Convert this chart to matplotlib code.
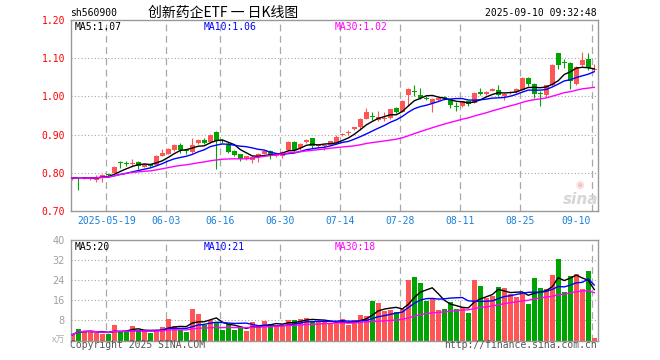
import matplotlib
matplotlib.use('Agg')
import matplotlib.pyplot as plt
import matplotlib.transforms as mtrans
import numpy as np
import pandas as pd

# ---------------- data ----------------
opens = [0.783,0.787,0.785,0.784,0.781,0.787,0.795,0.800,0.827,0.826,
         0.823,0.827,0.816,0.821,0.821,0.845,0.850,0.859,0.872,0.858,
         0.855,0.878,0.887,0.880,0.906,0.885,0.873,0.857,0.848,0.840,
         0.834,0.842,0.850,0.858,0.843,0.844,0.860,0.880,0.866,0.881,
         0.890,0.870,0.869,0.874,0.878,0.899,0.905,0.915,0.921,0.942,
         0.950,0.938,0.940,0.943,0.969,0.960,1.004,1.013,1.004,0.995,
         0.984,0.991,0.998,0.992,0.975,0.975,0.987,0.984,1.011,1.006,
         1.015,1.017,1.002,1.008,1.012,1.018,1.048,1.032,1.008,1.004,
         1.030,1.113,1.090,1.087,1.033,1.082,1.099,1.070]
highs = [0.790,0.789,0.787,0.790,0.793,0.797,0.797,0.817,0.831,0.830,
         0.837,0.831,0.825,0.824,0.847,0.863,0.864,0.875,0.877,0.863,
         0.892,0.888,0.890,0.901,0.910,0.889,0.881,0.860,0.849,0.845,
         0.844,0.852,0.859,0.860,0.852,0.857,0.884,0.882,0.878,0.889,
         0.891,0.876,0.874,0.884,0.898,0.904,0.911,0.921,0.944,0.970,
         0.958,0.962,0.960,0.968,0.972,0.990,1.021,1.030,1.023,1.002,
         0.995,0.999,1.001,0.994,0.985,0.989,0.989,1.011,1.021,1.013,
         1.021,1.030,1.008,1.014,1.021,1.051,1.050,1.034,1.013,1.031,
         1.085,1.114,1.097,1.089,1.079,1.117,1.114,1.086]
lows = [0.781,0.756,0.783,0.780,0.776,0.775,0.790,0.799,0.813,0.818,
        0.817,0.811,0.814,0.815,0.820,0.843,0.848,0.857,0.852,0.849,
        0.853,0.876,0.875,0.878,0.809,0.878,0.852,0.843,0.832,0.833,
        0.826,0.829,0.848,0.836,0.841,0.838,0.858,0.858,0.860,0.879,
        0.866,0.865,0.860,0.872,0.876,0.896,0.900,0.913,0.912,0.940,
        0.938,0.935,0.935,0.941,0.956,0.958,0.976,1.000,0.992,0.990,
        0.960,0.989,0.992,0.970,0.962,0.973,0.976,0.982,1.003,1.004,
        1.013,1.001,0.990,1.005,1.010,1.016,1.027,0.997,0.974,0.998,
        1.028,1.071,1.074,1.020,1.030,1.080,1.068,1.066]
closes = [0.787,0.784,0.786,0.787,0.790,0.795,0.793,0.815,0.825,0.824,
          0.826,0.817,0.823,0.819,0.845,0.853,0.862,0.872,0.860,0.856,
          0.874,0.886,0.877,0.900,0.884,0.883,0.855,0.847,0.835,0.842,
          0.842,0.850,0.857,0.845,0.850,0.855,0.881,0.860,0.876,0.887,
          0.869,0.873,0.871,0.882,0.895,0.901,0.907,0.919,0.942,0.958,
          0.946,0.947,0.942,0.966,0.959,0.988,1.019,1.011,0.997,0.993,
          0.993,0.997,0.996,0.977,0.973,0.987,0.981,1.009,1.005,1.011,
          1.019,1.004,1.006,1.010,1.019,1.049,1.033,1.007,1.006,1.029,
          1.083,1.081,1.088,1.041,1.077,1.094,1.075,1.073]
volumes = [2.3,4.5,3.9,3.9,2.8,2.6,2.6,6.3,3.6,3.6,
           5.9,3.9,3.6,3.1,3.9,5.5,8.5,5.9,4.3,3.4,
           12.7,10.7,6.3,8.0,7.3,4.3,6.6,4.3,5.0,3.9,
           7.5,5.6,7.9,6.4,6.3,6.3,8.3,8.3,8.7,9.1,
           7.6,7.5,7.7,6.9,6.5,8.5,6.2,8.2,10.2,9.9,
           15.8,14.8,11.8,12.2,11.4,12.5,24.1,25.3,22.9,15.8,
           16.8,12.2,12.6,15.2,12.6,13.5,10.9,24.1,21.7,16.8,
           17.9,21.3,20.9,18.5,17.5,18.5,14.6,24.9,20.9,20.5,
           26.1,32.5,19.3,25.7,26.5,20.5,27.7,0.9]

date_tick_idx = [6, 16, 25, 35, 45, 55, 65, 75, 87]
date_tick_labels = ['2025-05-19', '06-03', '06-16', '06-30', '07-14',
                    '07-28', '08-11', '08-25', '09-10']
price_ticks = [0.70, 0.80, 0.90, 1.00, 1.10, 1.20]
vol_ticks = [8, 16, 24, 32, 40]
ma_periods = [5, 10, 30]
price_ma_texts = ['MA5:1.07', 'MA10:1.06', 'MA30:1.02']
vol_ma_texts = ['MA5:20', 'MA10:21', 'MA30:18']

# ---------------- style ----------------
RED = '#ff5555'
GREEN = '#00a400'
MA_COLORS = ['#000000', '#0000ff', '#ff00ff']
GRID = '#a8a8a8'
BORDER = '#999999'
MONO = 'DejaVu Sans Mono'

W, H = 660, 360
fig = plt.figure(figsize=(W / 100, H / 100), dpi=100)
fig.patch.set_facecolor('white')


def rect(x0, y0, x1, y1):
    return [x0 / W, 1 - y1 / H, (x1 - x0) / W, (y1 - y0) / H]


def ftext(x, y, s, **kw):
    fig.text(x / W, 1 - y / H, s, va='center', **kw)


ax = fig.add_axes(rect(70.5, 20, 597.7, 211))
axv = fig.add_axes(rect(70.5, 240, 597.7, 340.5))

o = np.array(opens); h = np.array(highs); l = np.array(lows); c = np.array(closes)
v = np.array(volumes)
x = np.arange(len(c))
up = c >= o
colors = np.where(up, RED, GREEN)

XL = (-0.3, len(c) - 1 + 0.57)

for a in (ax, axv):
    a.set_xlim(*XL)
    for s in a.spines.values():
        s.set_color(BORDER)
        s.set_linewidth(1.0)
    a.tick_params(length=0)
    a.set_xticks([])
    for idx in date_tick_idx:
        a.axvline(idx - 0.3, color=GRID, lw=0.9, ls=(0, (5.5, 3.5)), zorder=0)

# ---- price panel ----
ax.set_ylim(0.70, 1.20)
for t in price_ticks[1:-1]:
    ax.axhline(t, color=GRID, lw=0.8, ls=(0, (1, 2)), zorder=0)
ax.set_yticks(price_ticks)
ax.set_yticklabels(['%.2f' % t for t in price_ticks], color='#ff0000',
                   fontsize=7, family=MONO)
ax.tick_params(axis='y', pad=4)

ax.vlines(x, l, h, colors=colors, lw=0.8, zorder=2)
body = np.maximum(np.abs(c - o), 0.0028)
bottom = np.minimum(o, c)
ax.bar(x, body, 0.8, bottom=bottom, color=colors, lw=0, zorder=3)

cs = pd.Series(c)
for p, col in zip(ma_periods, MA_COLORS):
    ax.plot(x, cs.rolling(p, min_periods=1).mean(), color=col, lw=1.0, zorder=4)

# ---- volume panel ----
axv.set_ylim(0, 40)
for t in vol_ticks[:-1]:
    axv.axhline(t, color=GRID, lw=0.8, ls=(0, (1, 2)), zorder=0)
axv.set_yticks(vol_ticks)
axv.set_yticklabels([str(t) for t in vol_ticks], color='#a0a0a0', fontsize=7)
axv.tick_params(axis='y', pad=4)
axv.bar(x, v, 0.82, color=colors, lw=0, zorder=2)
vs = pd.Series(v)
for p, col in zip(ma_periods, MA_COLORS):
    axv.plot(x, vs.rolling(p, min_periods=1).mean(), color=col, lw=1.0, zorder=4)

# ---- date labels ----
tr = mtrans.blended_transform_factory(ax.transData, fig.transFigure)
for k, (idx, lab) in enumerate(zip(date_tick_idx, date_tick_labels)):
    last = k == len(date_tick_idx) - 1
    ax.text(idx - 0.3 - (0.25 if last else 0), 1 - 221.5 / H, lab,
            transform=tr, ha='right' if last else 'center', va='center',
            color='#1a80d9', fontsize=7, family=MONO)

# ---- MA legends ----
for xp, s, col in zip([75, 204, 335], price_ma_texts, MA_COLORS):
    ftext(xp, 27, s, color=col, fontsize=7, family=MONO)
for xp, s, col in zip([75, 204, 335], vol_ma_texts, MA_COLORS):
    ftext(xp, 246.5, s, color=col, fontsize=7, family=MONO)

# ---- header / footer ----
ftext(70, 13.5, 'sh560900', color='#000000', fontsize=7, family=MONO)
ftext(223.5, 13, '创新药企ETF 一 日K线图', ha='center', color='#000000',
      fontsize=10, family=['Noto Sans CJK SC', 'DejaVu Sans'])
ftext(597, 13.5, '2025-09-10 09:32:48', ha='right', color='#000000',
      fontsize=7, family=MONO)
ftext(65, 340, 'x万', ha='right', color='#b0b0b0', fontsize=6.5,
      family=['Noto Sans CJK SC', 'DejaVu Sans'])
ftext(70, 345.5, 'Copyright 2025 SINA.COM', color='#555555', fontsize=7, family=MONO)
ftext(597, 345.5, 'http://finance.sina.com.cn', ha='right', color='#555555',
      fontsize=7, family=MONO)

# ---- sina watermark ----
ftext(581, 200, 'sina', ha='center', color='#d6d6d6', fontsize=11,
      fontweight='bold', style='italic')
ftext(580, 185, '◉', ha='center', color='#f2c4c4', fontsize=7)

fig.savefig('out.png', dpi=100, facecolor='white')
